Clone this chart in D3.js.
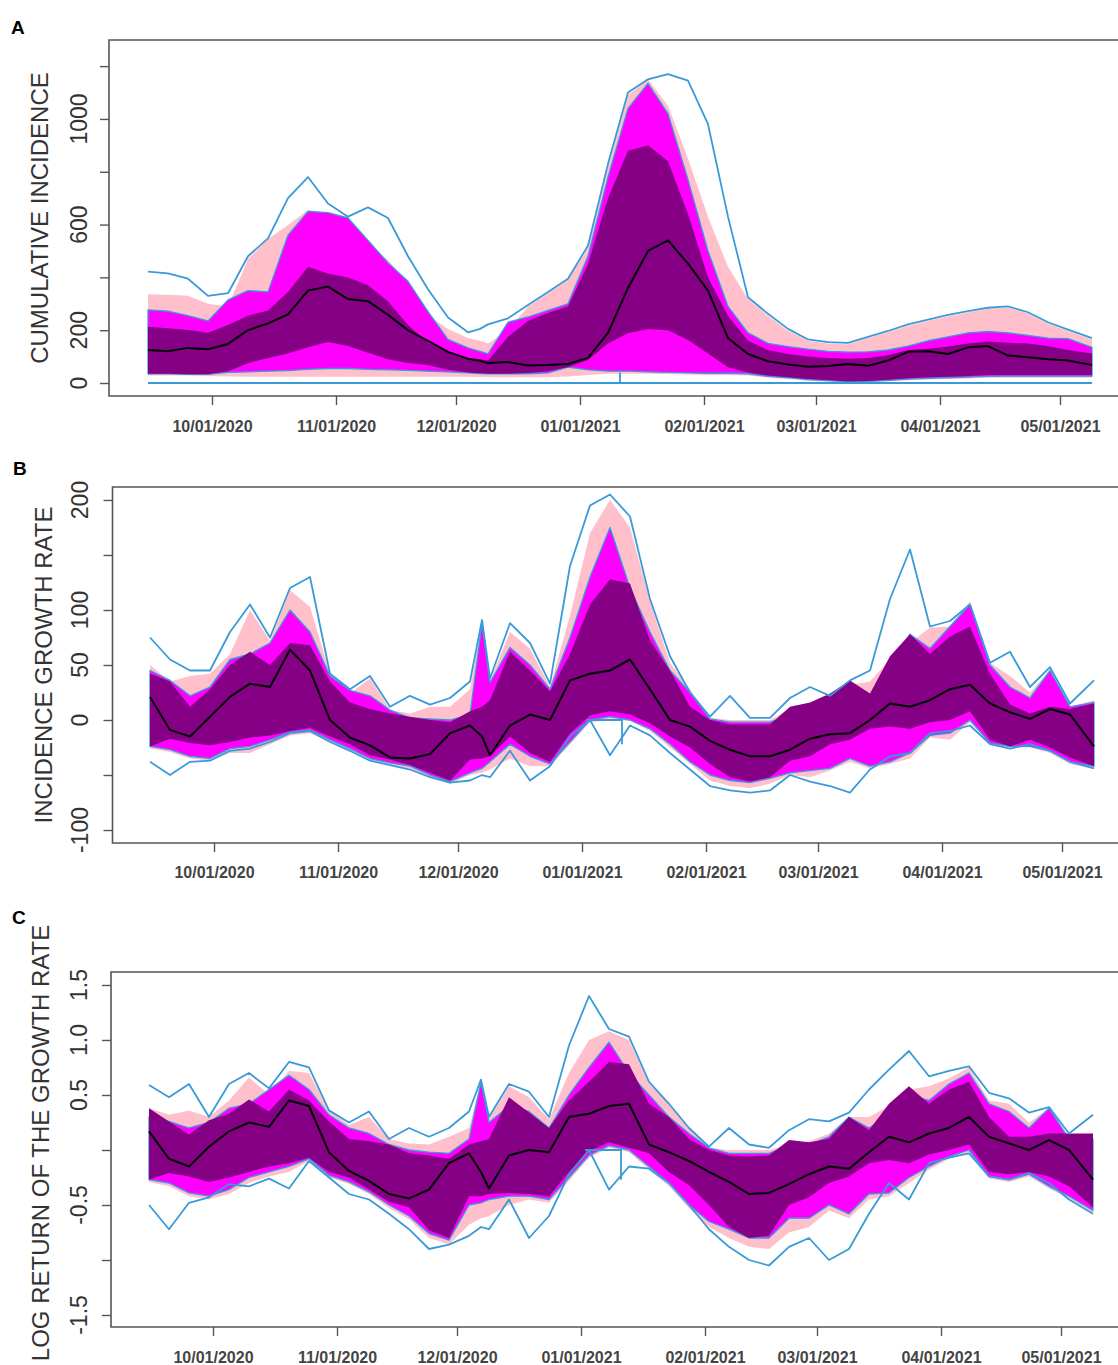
<!DOCTYPE html>
<html><head><meta charset="utf-8">
<script src="https://cdn.jsdelivr.net/npm/d3@7"></script>
<style>body{margin:0;background:#fff} svg{display:block;font-family:"Liberation Sans",Arial,sans-serif}</style>
</head><body><svg id="c" width="1118" height="1365"></svg>
<script>
// ---------- shared categories ----------
const DATES = ["2020-09-15","2020-09-20","2020-09-25","2020-09-30","2020-10-05","2020-10-10","2020-10-15","2020-10-20","2020-10-25","2020-10-30",
"2020-11-04","2020-11-09","2020-11-14","2020-11-19","2020-11-24","2020-11-29","2020-12-04","2020-12-07","2020-12-09","2020-12-14","2020-12-19",
"2020-12-24","2020-12-29","2021-01-03","2021-01-08","2021-01-13","2021-01-18","2021-01-23","2021-01-28","2021-02-02","2021-02-07",
"2021-02-12","2021-02-17","2021-02-22","2021-02-27","2021-03-04","2021-03-09","2021-03-14","2021-03-19","2021-03-24","2021-03-29",
"2021-04-03","2021-04-08","2021-04-13","2021-04-18","2021-04-23","2021-04-28","2021-05-03","2021-05-09"];
const XTICKS = ["2020-10-01","2020-11-01","2020-12-01","2021-01-01","2021-02-01","2021-03-01","2021-04-01","2021-05-01"];
const XTICK_LABELS = ["10/01/2020","11/01/2020","12/01/2020","01/01/2021","02/01/2021","03/01/2021","04/01/2021","05/01/2021"];

// ---------- panel A: cumulative incidence ----------
const A_OUT_HI = [422,415,395,330,340,480,548,700,780,680,630,665,625,480,355,248,192,205,222,245,295,345,395,520,830,1100,1150,1170,1145,980,630,325,262,205,165,155,152,175,197,222,240,258,272,285,290,268,230,202,170];
const A_PINK_HI = [336,334,330,300,290,470,545,598,655,645,628,529,466,378,258,205,170,160,150,200,290,340,390,510,820,1090,1150,1050,850,630,440,318,255,198,160,150,147,170,192,217,235,253,267,280,285,263,225,197,165];
const A_MAG_HI = [277,272,255,235,315,350,345,560,650,645,625,540,455,385,270,165,133,120,110,230,250,275,300,480,780,1040,1135,1020,770,500,290,190,150,138,128,120,117,118,125,140,160,175,190,195,190,180,170,168,135];
const A_PUR_HI = [213,207,201,190,220,255,275,345,440,415,400,370,310,220,152,120,95,90,85,175,235,265,290,450,700,880,900,840,640,400,255,160,125,110,100,95,92,95,105,125,130,138,150,157,152,150,140,125,112];
const A_MED = [125,120,133,128,148,200,226,260,350,365,318,310,258,200,160,118,92,84,76,80,66,68,72,95,190,360,500,540,452,350,170,110,82,70,62,64,72,65,85,118,120,110,135,140,104,98,90,85,68];
const A_PUR_LO = [35,35,33,33,45,75,95,112,135,155,140,115,90,76,68,50,40,37,35,35,38,45,60,87,150,188,205,200,163,112,60,40,28,22,15,11,6,8,12,18,22,24,27,30,30,30,30,30,30];
const A_MAG_LO = [35,35,33,33,40,42,45,47,52,55,55,52,50,48,45,42,38,36,35,35,35,38,60,50,45,45,42,40,38,37,37,35,25,20,13,9,5,6,10,15,18,20,22,25,26,26,26,26,26];
const A_PINK_LO = [28,28,28,27,25,24,24,24,24,24,24,24,24,24,24,24,24,23,22,22,22,22,25,30,35,35,35,33,32,30,30,28,20,15,9,5,2,3,6,10,13,15,17,20,20,20,20,20,20];
const A_FLOOR_DATES = ["2020-09-15","2021-01-11","2021-01-11","2021-01-11","2021-05-09"];
const A_FLOOR = [0,0,40,0,0];
const A_YTICKS = [0,200,400,600,800,1000,1200];
const A_YLABELS = ["0","200","","600","","1000",""];

// ---------- panel B: incidence growth rate ----------
const B_OUT_HI = [75,55,45,45,80,105,75,120,130,42,28,40,12,22,14,20,35,91,38,88,70,33,140,195,205,185,110,58,25,3,22,2,2,20,30,22,36,45,110,155,85,90,105,52,62,30,48,15,36];
const B_PINK_HI = [50,35,40,42,60,100,72,118,103,42,24,38,9,6,12,12,28,89,36,80,65,30,95,170,200,175,108,52,28,2,0,0,0,10,12,20,32,35,55,70,84,85,108,52,40,25,45,12,18];
const B_MAG_HI = [45,36,22,30,55,60,70,100,80,40,27,22,9,2,1,0,5,88,34,66,50,28,75,130,175,120,80,45,25,1,-2,-2,-2,5,5,12,25,20,50,78,65,85,105,50,30,20,45,12,16];
const B_PUR_HI = [42,35,12,28,50,62,50,70,68,35,16,10,6,3,0,-2,8,12,18,62,45,26,60,105,128,124,72,45,12,0,-4,-4,-4,12,16,24,36,24,58,78,60,76,85,42,14,6,12,10,15];
const B_MED = [21,-9,-15,3,21,33,30,64,45,0,-16,-23,-34,-35,-31,-12,-5,-15,-32,-5,5,0,36,42,45,55,28,0,-6,-19,-27,-33,-33,-27,-17,-13,-12,0,15,12,18,28,32,15,7,1,10,5,-24];
const B_PUR_LO = [-24,-17,-21,-23,-20,-16,-14,-10,-7,-15,-22,-32,-36,-41,-48,-55,-36,-35,-33,-15,-30,-38,-12,4,8,5,-3,-15,-25,-40,-52,-56,-52,-37,-33,-22,-18,-8,-6,-8,-2,0,8,-18,-24,-18,-25,-34,-42];
const B_MAG_LO = [-24,-27,-33,-35,-26,-24,-18,-11,-9,-18,-26,-35,-39,-42,-50,-56,-48,-44,-38,-22,-33,-40,-20,0,3,0,-8,-22,-38,-50,-55,-57,-53,-48,-46,-44,-35,-42,-38,-30,-14,-12,0,-21,-24,-24,-28,-38,-42];
const B_PINK_LO = [-26,-29,-35,-37,-30,-30,-22,-14,-12,-20,-28,-37,-41,-44,-52,-58,-50,-48,-45,-35,-42,-42,-22,-2,0,-1,-10,-25,-40,-55,-60,-62,-58,-50,-52,-46,-38,-44,-40,-35,-16,-18,-2,-22,-25,-25,-30,-40,-44];
const B_OUT_LO = [-38,-50,-38,-37,-28,-26,-20,-12,-10,-20,-28,-37,-41,-45,-52,-57,-55,-50,-52,-28,-55,-42,-15,0,-32,-5,-14,-30,-45,-60,-64,-66,-64,-50,-56,-60,-66,-45,-33,-30,-12,-10,-5,-22,-26,-22,-28,-38,-44];
const B_FLAT_DATES = ["2021-01-02","2021-01-11","2021-01-11"];
const B_FLAT = [0,0,-22];
const B_YTICKS = [-100,-50,0,50,100,150,200];
const B_YLABELS = ["-100","","0","50","100","","200"];

// ---------- panel C: log return of the growth rate ----------
const C_OUT_HI = [0.59,0.48,0.6,0.3,0.6,0.7,0.56,0.8,0.75,0.36,0.25,0.35,0.1,0.2,0.12,0.2,0.35,0.64,0.3,0.6,0.53,0.3,0.95,1.4,1.1,1.03,0.62,0.42,0.2,0.03,0.2,0.05,0.02,0.18,0.28,0.26,0.34,0.55,0.73,0.9,0.67,0.72,0.76,0.52,0.47,0.34,0.39,0.15,0.32];
const C_PINK_HI = [0.38,0.32,0.36,0.3,0.45,0.66,0.5,0.72,0.7,0.36,0.23,0.3,0.1,0.06,0.05,0.12,0.2,0.62,0.28,0.58,0.48,0.28,0.7,1.0,1.08,1.0,0.6,0.42,0.2,0.02,0.0,0.0,0.0,0.05,0.08,0.15,0.3,0.3,0.4,0.55,0.58,0.65,0.75,0.45,0.42,0.25,0.38,0.12,0.15];
const C_MAG_HI = [0.3,0.26,0.2,0.25,0.38,0.42,0.55,0.68,0.55,0.32,0.2,0.15,0.05,0.0,-0.02,-0.03,0.1,0.62,0.25,0.4,0.35,0.2,0.5,0.75,0.98,0.7,0.5,0.3,0.15,0.02,-0.03,-0.03,-0.03,0.04,0.05,0.12,0.3,0.2,0.32,0.5,0.45,0.6,0.7,0.42,0.35,0.2,0.38,0.1,0.1];
const C_PUR_HI = [0.38,0.26,0.14,0.27,0.33,0.46,0.35,0.55,0.45,0.26,0.1,0.08,0.05,-0.03,-0.05,-0.08,0.05,0.08,0.1,0.48,0.34,0.2,0.45,0.62,0.8,0.78,0.42,0.3,0.1,0.0,-0.05,-0.06,-0.05,0.09,0.07,0.1,0.3,0.18,0.42,0.58,0.42,0.55,0.62,0.3,0.12,0.12,0.15,0.15,0.15];
const C_MED = [0.17,-0.08,-0.15,0.03,0.17,0.25,0.21,0.45,0.4,-0.02,-0.19,-0.28,-0.4,-0.44,-0.36,-0.12,-0.03,-0.2,-0.35,-0.05,0.0,-0.02,0.3,0.33,0.4,0.42,0.05,-0.02,-0.1,-0.2,-0.29,-0.4,-0.39,-0.31,-0.22,-0.15,-0.17,-0.02,0.12,0.07,0.15,0.2,0.3,0.12,0.06,0.0,0.09,0.0,-0.27];
const C_PUR_LO = [-0.27,-0.21,-0.24,-0.29,-0.25,-0.2,-0.15,-0.12,-0.07,-0.2,-0.25,-0.36,-0.47,-0.52,-0.73,-0.8,-0.42,-0.42,-0.4,-0.39,-0.4,-0.42,-0.2,-0.01,0.07,0.02,-0.03,-0.2,-0.32,-0.5,-0.7,-0.8,-0.78,-0.5,-0.43,-0.3,-0.24,-0.12,-0.09,-0.12,-0.04,0.0,0.05,-0.2,-0.22,-0.2,-0.24,-0.33,-0.52];
const C_MAG_LO = [-0.27,-0.3,-0.39,-0.42,-0.36,-0.25,-0.2,-0.15,-0.08,-0.23,-0.29,-0.38,-0.5,-0.6,-0.76,-0.82,-0.5,-0.48,-0.45,-0.42,-0.42,-0.45,-0.25,-0.05,0.04,0.0,-0.15,-0.3,-0.5,-0.65,-0.72,-0.8,-0.8,-0.62,-0.62,-0.5,-0.58,-0.4,-0.39,-0.25,-0.15,-0.06,0.0,-0.24,-0.27,-0.22,-0.33,-0.42,-0.55];
const C_PINK_LO = [-0.29,-0.33,-0.42,-0.45,-0.4,-0.3,-0.24,-0.2,-0.1,-0.25,-0.31,-0.4,-0.53,-0.63,-0.8,-0.86,-0.68,-0.62,-0.6,-0.5,-0.45,-0.48,-0.28,-0.07,0.02,-0.02,-0.18,-0.33,-0.53,-0.7,-0.8,-0.88,-0.9,-0.75,-0.7,-0.55,-0.62,-0.45,-0.42,-0.3,-0.18,-0.08,-0.02,-0.26,-0.29,-0.24,-0.35,-0.44,-0.57];
const C_OUT_LO = [-0.5,-0.72,-0.48,-0.43,-0.31,-0.33,-0.26,-0.35,-0.1,-0.25,-0.4,-0.45,-0.58,-0.72,-0.9,-0.86,-0.78,-0.7,-0.72,-0.45,-0.8,-0.6,-0.22,0.0,-0.36,-0.15,-0.17,-0.3,-0.5,-0.72,-0.88,-1.0,-1.05,-0.88,-0.8,-1.0,-0.9,-0.58,-0.3,-0.45,-0.12,-0.07,-0.03,-0.24,-0.27,-0.21,-0.3,-0.45,-0.58];
const C_FLAT_DATES = ["2021-01-02","2021-01-11","2021-01-11"];
const C_FLAT = [0,0,-0.27];
const C_YTICKS = [-1.5,-1.0,-0.5,0,0.5,1.0,1.5];
const C_YLABELS = ["-1.5","","-0.5","","0.5","1.0","1.5"];

// ---------- drawing ----------
const parse = d3.utcParse("%Y-%m-%d");
const dates = DATES.map(parse);
const svg = d3.select("#c");
const COL = {pink:"#FFC0CB", mag:"#FF00FF", pur:"#850085", blue:"#3a9ad9", med:"#000000", frame:"#555555"};

function panel(p){
  const g = svg.append("g");
  const x = d3.scaleUtc().domain([parse("2020-09-15"), parse("2021-05-09")]).range([p.x0, p.x0 + 944]);
  const y = d3.scaleLinear().domain(p.ydom).range([p.bottom, p.top]);
  const area = (lo, hi) => d3.area().x((d,i)=>x(dates[i])).y0((d,i)=>y(lo[i])).y1((d,i)=>y(hi[i]))(dates);
  const line = (ds, vals) => d3.line().x((d,i)=>x(ds[i])).y((d,i)=>y(vals[i]))(ds);

  g.append("path").attr("d", area(p.pinkLo, p.pinkHi)).attr("fill", COL.pink);
  g.append("path").attr("d", area(p.magLo, p.magHi)).attr("fill", COL.mag)
    .attr("stroke", COL.blue).attr("stroke-width", 1.3).attr("stroke-linejoin","round");
  g.append("path").attr("d", area(p.purLo, p.purHi)).attr("fill", COL.pur);
  g.append("path").attr("d", line(dates, p.outHi)).attr("fill","none").attr("stroke",COL.blue).attr("stroke-width",1.8).attr("stroke-linejoin","round");
  if (p.outLo) g.append("path").attr("d", line(dates, p.outLo)).attr("fill","none").attr("stroke",COL.blue).attr("stroke-width",1.8).attr("stroke-linejoin","round");
  const fd = p.flatDates.map(parse);
  g.append("path").attr("d", line(fd, p.flat)).attr("fill","none").attr("stroke",COL.blue).attr("stroke-width",1.8);
  g.append("path").attr("d", line(dates, p.med)).attr("fill","none").attr("stroke",COL.med).attr("stroke-width",2).attr("stroke-linejoin","round");

  // frame (right side lies beyond the picture)
  g.append("path").attr("d", `M1125,${p.top}H${p.left}V${p.bottom}H1125`)
    .attr("fill","none").attr("stroke",COL.frame).attr("stroke-width",1.6);

  // y axis ticks and rotated labels
  const ya = g.append("g").attr("transform", `translate(${p.left},0)`)
    .call(d3.axisLeft(y).tickValues(p.yticks).tickSize(9).tickFormat(""));
  ya.select(".domain").remove();
  ya.selectAll("line").attr("stroke",COL.frame).attr("stroke-width",1.4);
  p.yticks.forEach((v,i)=>{
    if (!p.ylabels[i]) return;
    g.append("text").attr("transform", `translate(${p.ylabX},${y(v)}) rotate(-90)`)
      .attr("text-anchor","middle").attr("dominant-baseline","central")
      .attr("font-size",23).attr("fill","#333").text(p.ylabels[i]);
  });

  // x axis
  const xt = XTICKS.map(parse);
  const xa = g.append("g").attr("transform", `translate(0,${p.bottom})`)
    .call(d3.axisBottom(x).tickValues(xt).tickSize(9).tickPadding(p.xpad)
      .tickFormat((d,i)=>XTICK_LABELS[i]));
  xa.select(".domain").remove();
  xa.selectAll("line").attr("stroke",COL.frame).attr("stroke-width",1.4);
  xa.selectAll("text").attr("font-size",16).attr("font-weight","bold").attr("fill","#444")
    .attr("font-family",'"Liberation Sans",Arial,sans-serif');

  // title and panel letter
  g.append("text").attr("transform", `translate(${p.titleX},${p.titleY})  rotate(-90)`)
    .attr("text-anchor","middle").attr("dominant-baseline","central")
    .attr("font-size",24).attr("fill","#333").text(p.title);
  g.append("text").attr("x", p.letterX).attr("y", p.letterY)
    .attr("font-size",19).attr("font-weight","bold").attr("fill","#000").text(p.letter);
}

panel({letter:"A", letterX:11, letterY:34, title:"CUMULATIVE INCIDENCE", titleX:39, titleY:218, ylabX:79,
  x0:148, left:109, top:40, bottom:396, ydom:[-49.2,1299], xpad:16,
  yticks:A_YTICKS, ylabels:A_YLABELS,
  outHi:A_OUT_HI, outLo:null, flatDates:A_FLOOR_DATES, flat:A_FLOOR,
  pinkHi:A_PINK_HI, pinkLo:A_PINK_LO, magHi:A_MAG_HI, magLo:A_MAG_LO, purHi:A_PUR_HI, purLo:A_PUR_LO, med:A_MED});

panel({letter:"B", letterX:13, letterY:475, title:"INCIDENCE GROWTH RATE", titleX:43, titleY:665, ylabX:80,
  x0:150, left:112.5, top:487, bottom:843, ydom:[-111.8,211.8], xpad:15,
  yticks:B_YTICKS, ylabels:B_YLABELS,
  outHi:B_OUT_HI, outLo:B_OUT_LO, flatDates:B_FLAT_DATES, flat:B_FLAT,
  pinkHi:B_PINK_HI, pinkLo:B_PINK_LO, magHi:B_MAG_HI, magLo:B_MAG_LO, purHi:B_PUR_HI, purLo:B_PUR_LO, med:B_MED});

panel({letter:"C", letterX:12, letterY:924, title:"LOG RETURN OF THE GROWTH RATE", titleX:40, titleY:1143, ylabX:79,
  x0:149, left:111, top:972, bottom:1327, ydom:[-1.609,1.618], xpad:16,
  yticks:C_YTICKS, ylabels:C_YLABELS,
  outHi:C_OUT_HI, outLo:C_OUT_LO, flatDates:C_FLAT_DATES, flat:C_FLAT,
  pinkHi:C_PINK_HI, pinkLo:C_PINK_LO, magHi:C_MAG_HI, magLo:C_MAG_LO, purHi:C_PUR_HI, purLo:C_PUR_LO, med:C_MED});
</script>
</body></html>
